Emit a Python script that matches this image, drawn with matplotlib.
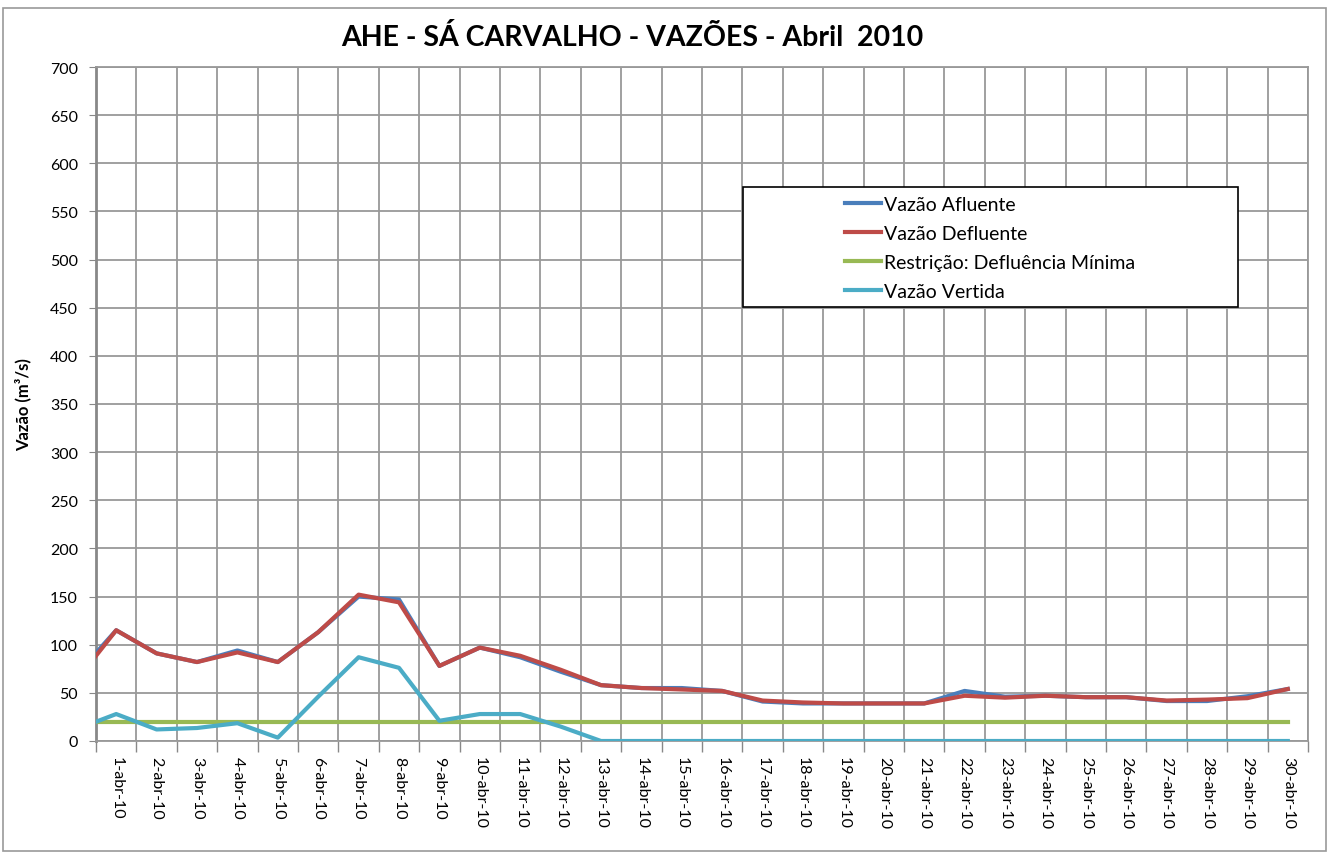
import matplotlib
matplotlib.use("Agg")
import matplotlib.pyplot as plt
from matplotlib.patches import Rectangle
import numpy as np

plt.rcParams['font.family'] = ['Lato', 'DejaVu Sans']

# 31-mar-10 is kept as a leading point: only its segment into 1-abr shows (clipped at the axis edge)
days = ['31-mar-10'] + ['%d-abr-10' % d for d in range(1, 31)]

vazao_afluente = [68, 115, 91, 82, 94, 82, 113, 150, 147, 78, 97,
                  87, 72, 58, 55, 55, 52, 41, 39, 39, 39,
                  39, 52, 46, 47, 45.5, 45.5, 41.5, 41.5, 46.5, 54]
vazao_defluente = [62, 115, 91, 82, 92, 82, 113, 152, 144, 78, 97,
                   88.5, 74, 58, 55, 53.5, 52, 42, 40, 39, 39,
                   39, 47, 45, 47, 45.5, 45.5, 42, 43, 44.5, 54]
defluencia_minima = [20] * 31
vazao_vertida = [12, 28, 12, 13.5, 18.5, 3.5, 46, 87, 76, 21, 28,
                 28, 15, 0, 0, 0, 0, 0, 0, 0, 0,
                 0, 0, 0, 0, 0, 0, 0, 0, 0, 0]

W, H = 1334, 853
fig = plt.figure(figsize=(W / 100, H / 100), dpi=100)
ax = fig.add_axes([96 / W, 1 - 742 / H, (1308 - 96) / W, (742 - 68) / H])

x = np.arange(len(days)) - 1
lw = 3.0
ax.plot(x, vazao_afluente, color='#4A7EBB', lw=lw, label='Vazão Afluente', zorder=3)
ax.plot(x, vazao_defluente, color='#BE4B48', lw=lw, label='Vazão Defluente', zorder=4)
ax.plot(x, defluencia_minima, color='#98B954', lw=lw, label='Restrição: Defluência Mínima', zorder=3)
ax.plot(x, vazao_vertida, color='#4BACC6', lw=lw, label='Vazão Vertida', zorder=3)

ax.set_xlim(-0.5, 29.5)
ax.set_ylim(0, 700)
ax.set_yticks(np.arange(0, 701, 50))
ax.set_xticks(np.arange(-0.5, 30, 1))
ax.set_xticklabels([])
ax.set_xticks(np.arange(0, 30), minor=True)
ax.set_xticklabels(days[1:], minor=True, rotation=-90, fontsize=11.5)
ax.tick_params(axis='x', which='major', length=8, color='#888888', width=1)
ax.tick_params(axis='x', which='minor', length=0, pad=11)
ax.tick_params(axis='y', length=5, color='#888888', labelsize=11.5, pad=8)
ax.grid(True, which='major', color='#999999', lw=1.3)
for s in ax.spines.values():
    s.set_color('#999999')
    s.set_linewidth(1.3)
ax.spines['left'].set_color('#888888')
ax.spines['left'].set_linewidth(2)

ax.set_ylabel('Vazão (m³/s)', fontsize=12, fontweight='bold', labelpad=13)
fig.text(632 / W, 1 - 37 / H, 'AHE - SÁ CARVALHO - VAZÕES - Abril  2010',
         ha='center', va='center', fontsize=20.5, fontweight='bold')

# chart area border
fig.add_artist(Rectangle((3 / W, 1 - 852 / H), 1323 / W, 843 / H, transform=fig.transFigure,
                         fill=False, edgecolor='#999999', lw=1.2))

# legend box
ax.add_patch(Rectangle((743 / W, 1 - 308 / H), 495 / W, 120 / H, transform=fig.transFigure,
                       facecolor='white', edgecolor='black', lw=1.2, zorder=10, clip_on=False))
leg = ax.legend(loc='center', bbox_to_anchor=(990 / W, 1 - 249 / H), bbox_transform=fig.transFigure,
                frameon=False, fontsize=14, handlelength=1.9, handletextpad=0.15,
                labelspacing=0.62)
leg.set_zorder(11)

fig.savefig('out.png', dpi=100)
